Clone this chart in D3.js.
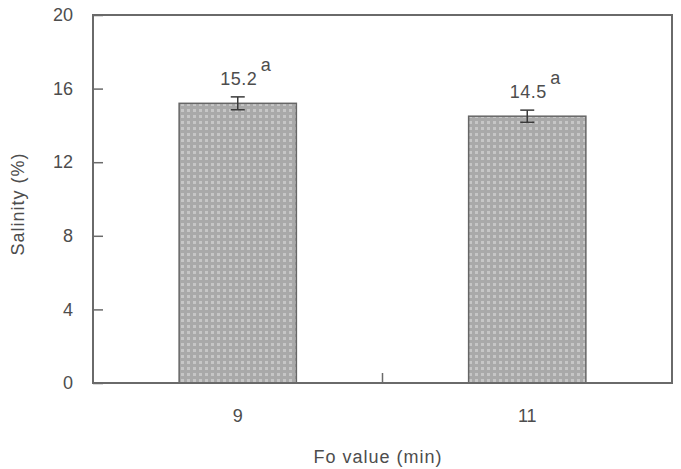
<!DOCTYPE html>
<html><head><meta charset="utf-8">
<script src="https://cdn.jsdelivr.net/npm/d3@7"></script>
<style>body{margin:0;background:#fff}text{font-family:Arial,"Liberation Sans",sans-serif}</style>
</head><body>
<svg id="c" width="681" height="469"></svg>
<script>
const categories = ["9", "11"];
const values = [15.2, 14.5];
const errors = [0.35, 0.33];
const letters = ["a", "a"];
const yTicks = [0, 4, 8, 12, 16, 20];

const svg = d3.select("#c");
const m = {l: 93, r: 672, t: 15, b: 383};
const x = d3.scaleBand().domain(categories).range([m.l, m.r]).paddingInner(0.595).paddingOuter(0.2975);
const y = d3.scaleLinear().domain([0, 20]).range([m.b, m.t]);
const ink = "#4d4d4d";
const ff = "Arial, 'Liberation Sans', sans-serif";

const defs = svg.append("defs");
const pat = defs.append("pattern").attr("id", "dots").attr("patternUnits", "userSpaceOnUse").attr("width", 6).attr("height", 6);
pat.append("rect").attr("width", 6).attr("height", 6).attr("fill", "#a9a9a9");
pat.append("rect").attr("x", 1).attr("y", 1).attr("width", 3).attr("height", 3).attr("fill", "#c6c6c6");

// bars
svg.selectAll("rect.bar").data(values).enter().append("rect").attr("class", "bar")
  .attr("x", (d, i) => x(categories[i])).attr("width", x.bandwidth())
  .attr("y", d => y(d)).attr("height", d => y(0) - y(d))
  .attr("fill", "url(#dots)").attr("stroke", "#666").attr("stroke-width", 1.5);

// error bars
const eb = svg.selectAll("g.eb").data(values).enter().append("g").attr("class", "eb")
  .attr("stroke", "#3a3a3a").attr("stroke-width", 1.5);
const cx = i => x(categories[i]) + x.bandwidth() / 2;
eb.append("line").attr("x1", (d, i) => cx(i)).attr("x2", (d, i) => cx(i))
  .attr("y1", (d, i) => y(d + errors[i])).attr("y2", (d, i) => y(d - errors[i]));
eb.append("line").attr("x1", (d, i) => cx(i) - 7).attr("x2", (d, i) => cx(i) + 7)
  .attr("y1", (d, i) => y(d + errors[i])).attr("y2", (d, i) => y(d + errors[i]));
eb.append("line").attr("x1", (d, i) => cx(i) - 7).attr("x2", (d, i) => cx(i) + 7)
  .attr("y1", (d, i) => y(d - errors[i])).attr("y2", (d, i) => y(d - errors[i]));

// value labels
svg.selectAll("text.val").data(values).enter().append("text").attr("class", "val")
  .attr("x", (d, i) => cx(i) + 1).attr("y", (d, i) => y(d + errors[i]) - 12)
  .attr("text-anchor", "middle").attr("font-size", 18).attr("letter-spacing", 0.5).attr("fill", ink).text(d => d.toFixed(1));
svg.selectAll("text.let").data(values).enter().append("text").attr("class", "let")
  .attr("x", (d, i) => cx(i) + 23).attr("y", (d, i) => y(d + errors[i]) - 26)
  .attr("font-size", 18).attr("fill", ink).text((d, i) => letters[i]);

// frame
svg.append("rect").attr("x", m.l).attr("y", m.t).attr("width", m.r - m.l).attr("height", m.b - m.t)
  .attr("fill", "none").attr("stroke", "#6a6a6a").attr("stroke-width", 2);

// y axis
const yAxis = d3.axisLeft(y).tickValues(yTicks).tickSize(-10).tickPadding(20).tickFormat(d3.format("d"));
const gy = svg.append("g").attr("transform", `translate(${m.l},0)`).call(yAxis);
gy.select(".domain").remove();
gy.selectAll(".tick line").attr("stroke", "#6a6a6a").attr("stroke-width", 1.5);
gy.selectAll(".tick text").attr("font-size", 18).attr("fill", ink).attr("font-family", ff);

// x axis
const xAxis = d3.axisBottom(x).tickSize(0).tickPadding(26);
const gx = svg.append("g").attr("transform", `translate(0,${m.b})`).call(xAxis);
gx.select(".domain").remove();
gx.selectAll(".tick text").attr("font-size", 18).attr("fill", ink).attr("font-family", ff);
// middle separator tick
svg.append("line").attr("x1", (m.l + m.r) / 2).attr("x2", (m.l + m.r) / 2).attr("y1", m.b).attr("y2", m.b - 10)
  .attr("stroke", "#6a6a6a").attr("stroke-width", 1.5);

// axis titles
svg.append("text").attr("x", 378).attr("y", 463).attr("text-anchor", "middle")
  .attr("font-size", 18).attr("letter-spacing", 1).attr("fill", ink).text("Fo value (min)");
svg.append("text").attr("transform", `translate(24,204) rotate(-90)`).attr("text-anchor", "middle")
  .attr("font-size", 18).attr("letter-spacing", 1).attr("fill", ink).text("Salinity (%)");
</script>
</body></html>
